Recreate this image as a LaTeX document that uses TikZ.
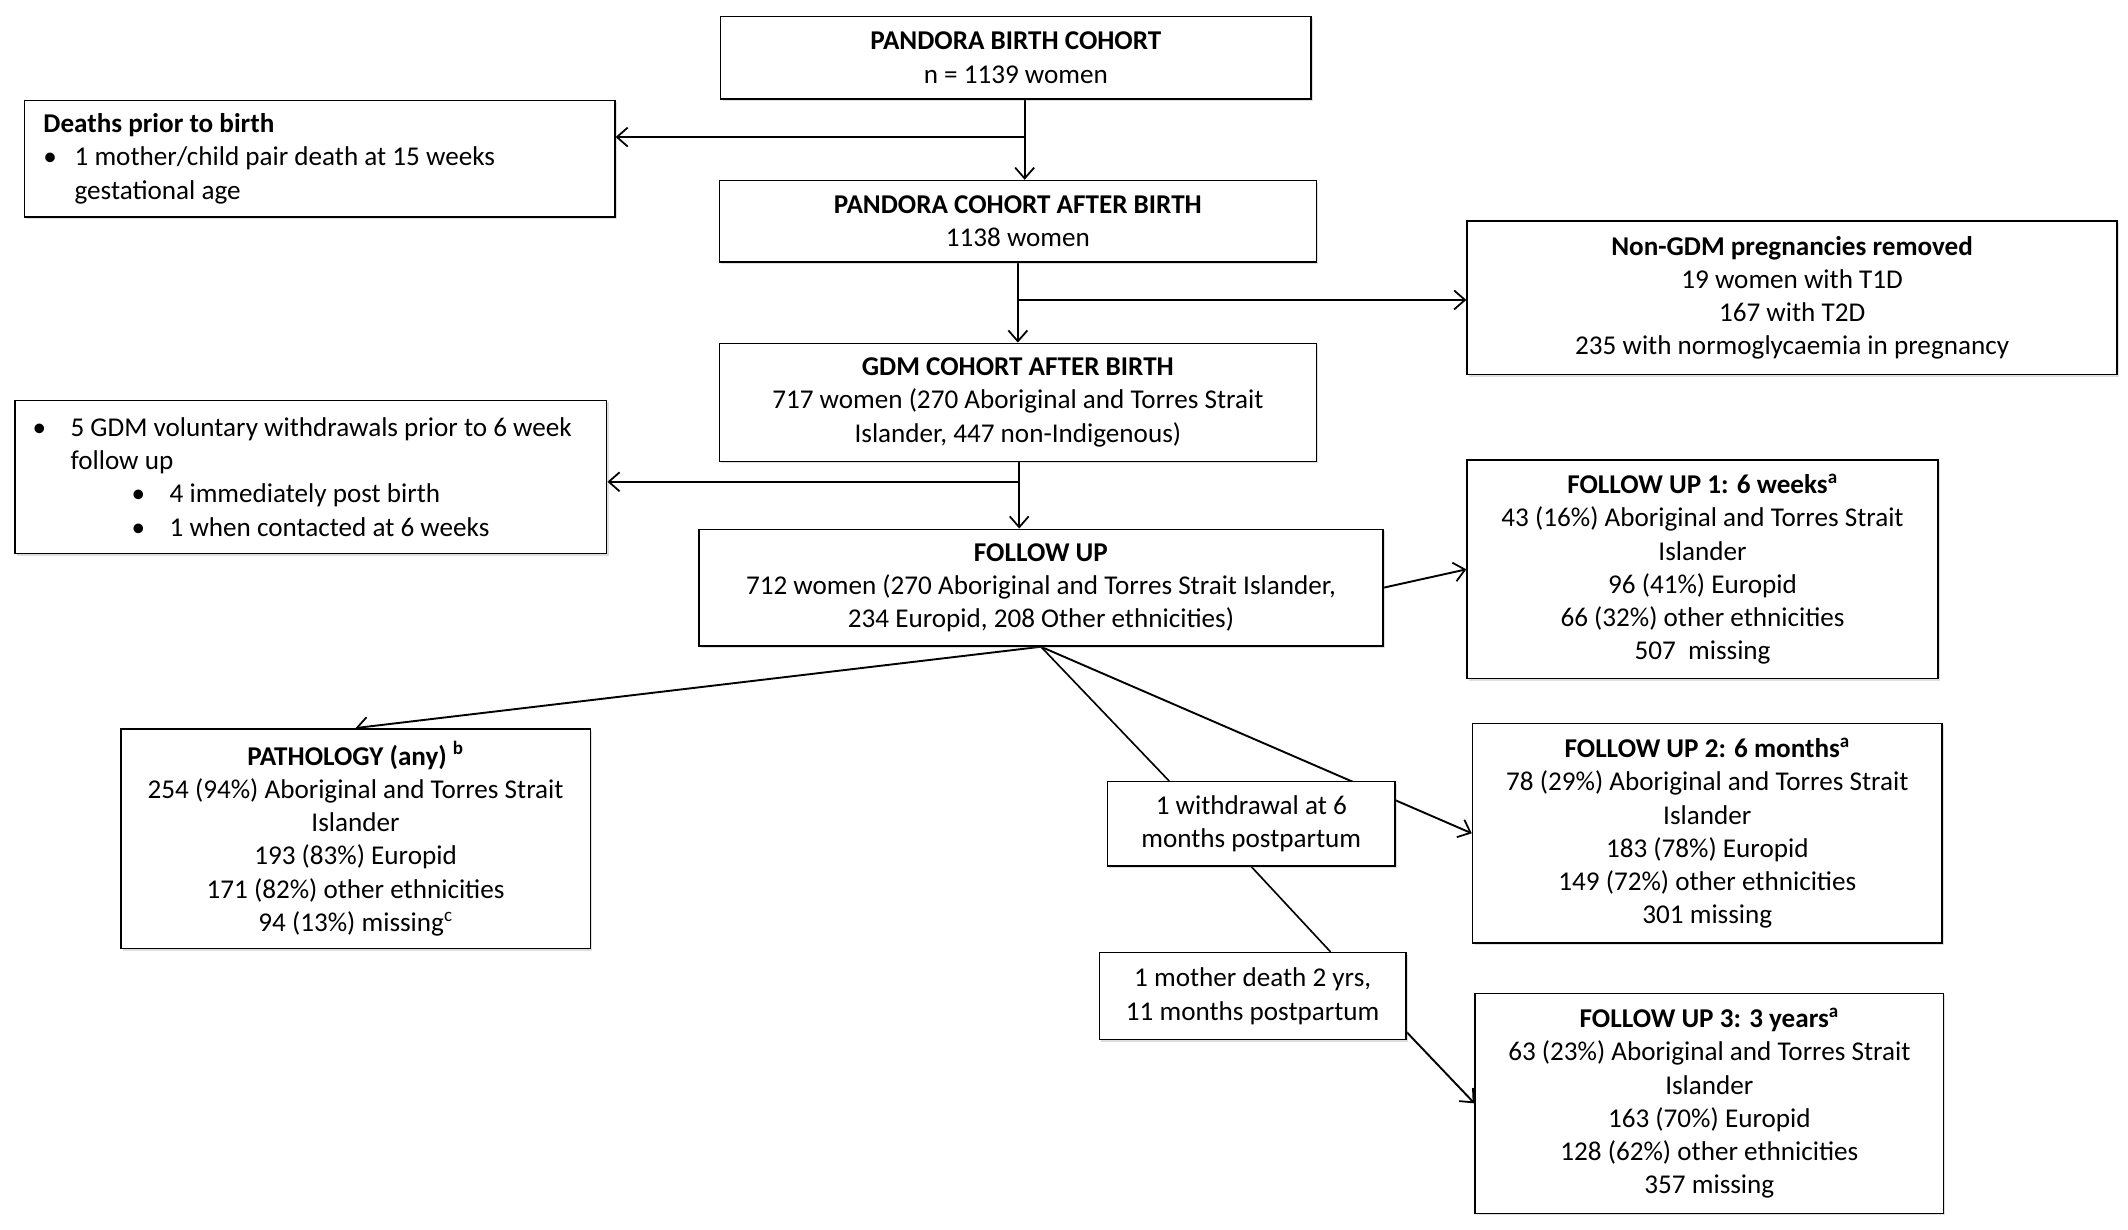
\documentclass[tikz,border=0pt]{standalone}
\usepackage{fontspec}
\setmainfont{Carlito}
\usetikzlibrary{arrows.meta,calc,shadows}
\pgfdeclarelayer{background}
\pgfsetlayers{background,main}
\begin{document}
\begin{tikzpicture}[x=1pt,y=-1pt,
  box/.style={draw=black, line width=1.1pt, fill=white, inner sep=0pt,
    font=\fontsize{20}{24.5}\selectfont, align=center,
    drop shadow={opacity=0.25, shadow xshift=1.5pt, shadow yshift=-1.5pt}},
  lbox/.style={box, align=flush left},
  arr/.style={line width=1.4pt, -{Straight Barb[length=8pt,width=14pt,line width=1.3pt]}},
  ln/.style={line width=1.2pt}]
\useasboundingbox (0,0) rectangle (1568,905.6);

\node[box, minimum width=435, minimum height=61] (b1) at (748.5,42.5)
  {\textbf{PANDORA BIRTH COHORT}\\n = 1139 women};
\node[lbox, minimum width=435, minimum height=86, text width=407] (b2) at (235.5,117)
  {\textbf{Deaths prior to birth}\\
   \makebox[23pt][l]{\textbullet}1 mother/child pair death at 15 weeks\\
   \hspace*{23pt}gestational age};
\node[box, minimum width=440, minimum height=60] (b3) at (750,163)
  {\textbf{PANDORA COHORT AFTER BIRTH}\\1138 women};
\node[box, minimum width=479, minimum height=113] (b4) at (1320.5,219.5)
  {\textbf{Non-GDM pregnancies removed}\\19 women with T1D\\167 with T2D\\235 with normoglycaemia in pregnancy};
\node[box, minimum width=440, minimum height=87] (b5) at (750,296.5)
  {\textbf{GDM COHORT AFTER BIRTH}\\717 women (270 Aboriginal and Torres Strait\\Islander, 447 non-Indigenous)};
\node[lbox, minimum width=436, minimum height=113, text width=410] (b6) at (229,351.5)
  {\makebox[28pt][l]{\textbullet}5 GDM voluntary withdrawals prior to 6 week\\
   \hspace*{28pt}follow up\\
   \hspace*{73pt}\makebox[28pt][l]{\textbullet}4 immediately post birth\\
   \hspace*{73pt}\makebox[28pt][l]{\textbullet}1 when contacted at 6 weeks};
\node[box, minimum width=504, minimum height=86] (b7) at (767,433)
  {\textbf{FOLLOW UP}\\712 women (270 Aboriginal and Torres Strait Islander,\\234 Europid, 208 Other ethnicities)};
\node[box, minimum width=347, minimum height=161] (b8) at (1254.5,419.5)
  {\textbf{FOLLOW UP 1: 6 weeks\textsuperscript{a}}\\43 (16\%) Aboriginal and Torres Strait\\Islander\\96 (41\%) Europid\\66 (32\%) other ethnicities\\507\ \ missing};
\node[box, minimum width=346, minimum height=162] (b9) at (262,618)
  {\textbf{PATHOLOGY (any)} \textsuperscript{\textbf{b}}\\254 (94\%) Aboriginal and Torres Strait\\Islander\\193 (83\%) Europid\\171 (82\%) other ethnicities\\94 (13\%) missing\textsuperscript{c}};
\node[box, minimum width=212, minimum height=62] (b10) at (922,607)
  {1 withdrawal at 6\\months postpartum};
\node[box, minimum width=346, minimum height=162] (b11) at (1258,614)
  {\textbf{FOLLOW UP 2: 6 months\textsuperscript{a}}\\78 (29\%) Aboriginal and Torres Strait\\Islander\\183 (78\%) Europid\\149 (72\%) other ethnicities\\301 missing};
\node[box, minimum width=226, minimum height=64] (b12) at (923,734)
  {1 mother death 2 yrs,\\11 months postpartum};
\node[box, minimum width=345, minimum height=162] (b13) at (1259.5,813)
  {\textbf{FOLLOW UP 3: 3 years\textsuperscript{a}}\\63 (23\%) Aboriginal and Torres Strait\\Islander\\163 (70\%) Europid\\128 (62\%) other ethnicities\\357 missing};

\coordinate (j1) at (755,101);
\coordinate (j2) at (750,221);
\coordinate (j3) at (751,355);

\begin{pgfonlayer}{background}
\draw[arr] (j1 |- b1.south) -- (j1 |- b3.north);
\draw[arr] (j1) -- (j1 -| b2.east);
\draw[arr] (j2 |- b3.south) -- (j2 |- b5.north);
\draw[arr] (j2) -- (j2 -| b4.west);
\draw[arr] (j3 |- b5.south) -- (j3 |- b7.north);
\draw[arr] (j3) -- (j3 -| b6.east);
\draw[arr] (b7.east) -- (b8.west);
\draw[arr] (b7.south) -- (b9.north);
\draw[arr] (b7.south) -- (b11.west);
\draw[ln] (b7.south) -- ($(b10.north west)+(46,0)$);
\draw[ln] (b10.south) -- ($(b12.north west)+(171,0)$);
\draw[arr] ($(b12.south east)+(0,-6)$) -- (b13.west);
\end{pgfonlayer}
\end{tikzpicture}
\end{document}
